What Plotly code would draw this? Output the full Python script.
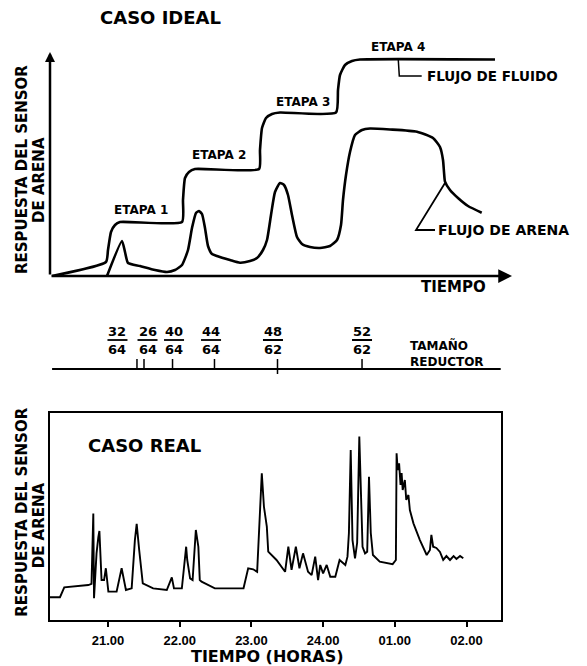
import plotly.graph_objects as go

W, H = 587, 666

# ---------------- Ideal case (arbitrary units) ----------------
fluid_t = [2, 56, 58, 61, 65, 70, 132, 133, 135, 139, 145, 209, 210, 212, 216, 222, 230,
           286, 288, 290, 295, 302, 310, 445]
fluid_r = [0, 14, 26, 44, 51, 54, 54, 76, 98, 104, 107, 107, 126, 148, 158, 162, 163.5,
           163.5, 186, 201, 211, 215, 216.5, 216.5]

sand_t = [57, 72, 75, 78, 90, 105, 117, 125, 132, 138, 142, 146, 149, 152, 155, 158, 162, 167,
          180, 190, 200, 207, 213, 217, 221, 225, 230, 234, 238, 242, 247, 252, 260, 270, 280,
          287, 291, 293, 296, 300, 305, 312, 320, 340, 367, 383, 390, 393, 394, 395, 400, 408,
          418, 431.7]
sand_r = [0, 35, 24, 13, 10, 6, 4, 6, 11, 26, 48, 63, 65, 62, 48, 30, 22, 20, 16, 13.3, 15, 18,
          26, 36, 61, 84, 93, 91, 81, 61, 39, 32, 29, 28, 30, 36, 51, 76, 101, 124, 141, 146,
          147.5, 146.5, 144.3, 138, 129, 116, 104, 94.3, 86, 78, 70, 63.3]

stage_labels = ["ETAPA 1", "ETAPA 2", "ETAPA 3", "ETAPA 4"]
stage_t = [90.5, 169, 253.3, 347.5]
stage_r = [66, 121, 174.3, 229.3]

# ---------------- Real case (hours, sensor response) ----------------
real_h = [20.19, 20.33, 20.39, 20.725, 20.77, 20.78, 20.795, 20.805, 20.84, 20.865,
          20.88, 20.91, 20.945, 20.97, 21.005, 21.12, 21.19, 21.25, 21.33, 21.375,
          21.40, 21.435, 21.485, 21.63, 21.82, 21.89, 21.92, 22.03, 22.09, 22.105,
          22.145, 22.18, 22.225, 22.26, 22.28, 22.305, 22.49, 22.89, 22.955, 23.025,
          23.08, 23.145, 23.175, 23.215, 23.235, 23.35, 23.47, 23.515, 23.56, 23.62,
          23.67, 23.72, 23.79, 23.84, 23.89, 23.93, 23.96, 24.00, 24.05, 24.10,
          24.17, 24.23, 24.31, 24.34, 24.36, 24.385, 24.41, 24.445, 24.475, 24.505,
          24.53, 24.55, 24.585, 24.615, 24.64, 24.665, 24.695, 24.79, 24.97, 25.015,
          25.025, 25.04, 25.06, 25.08, 25.095, 25.11, 25.14, 25.16, 25.19, 25.21,
          25.26, 25.35, 25.445, 25.49, 25.51, 25.535, 25.58, 25.63, 25.675, 25.72,
          25.77, 25.82, 25.86, 25.91, 25.955]
real_v = [11.0, 11.0, 15.8, 16.9, 17.5, 29.0, 51.5, 10.5, 32.2, 40.0,
          43.0, 19.3, 19.3, 25.0, 13.7, 13.7, 25.0, 14.5, 15.3, 38.6,
          46.4, 33.8, 17.7, 15.3, 14.5, 20.6, 15.3, 15.3, 35.4, 29.0,
          20.1, 19.3, 43.5, 35.4, 19.3, 18.5, 15.3, 15.3, 25.0, 24.5,
          23.3, 70.9, 54.7, 45.1, 33.0, 29.0, 23.3, 35.4, 24.2, 35.4,
          25.0, 32.2, 23.3, 21.7, 30.6, 19.3, 26.6, 22.5, 26.6, 20.9,
          20.9, 29.0, 26.6, 30.6, 42.0, 82.1, 38.6, 29.8, 37.3, 88.6,
          58.0, 35.4, 32.2, 33.0, 69.2, 42.0, 31.4, 28.2, 27.0, 29.0,
          80.5, 72.5, 75.7, 65.2, 71.0, 62.8, 67.6, 58.0, 60.4, 53.1,
          46.7, 38.6, 31.4, 33.8, 41.1, 35.4, 34.8, 32.9, 29.0, 30.9,
          29.0, 30.9, 29.5, 30.9, 29.8]

tick_hours = [21, 22, 23, 24, 25, 26]
tick_text = ["21.00", "22.00", "23.00", "24.00", "01.00", "02.00"]

# ---------------- Reducer size (choke) changes ----------------
choke_num = ["32", "26", "40", "44", "48", "52"]
choke_den = ["64", "64", "64", "64", "62", "62"]
choke_label_h = [21.132, 21.551, 21.921, 22.437, 23.301, 24.543]
choke_change_h = [21.404, 21.502, 21.900, 22.485, 23.364, 24.543]


def xp(px):
    return px / W


def yp(py):
    return 1 - py / H


FONT = "DejaVu Sans"
BLACK = "black"

fig = go.Figure()
fig.add_trace(go.Scatter(x=fluid_t, y=fluid_r, mode="lines", xaxis="x", yaxis="y",
                         line=dict(color=BLACK, width=2.6, shape="spline", smoothing=0.5)))
fig.add_trace(go.Scatter(x=sand_t, y=sand_r, mode="lines", xaxis="x", yaxis="y",
                         line=dict(color=BLACK, width=2.6, shape="spline", smoothing=0.5)))
fig.add_trace(go.Scatter(x=real_h, y=real_v, mode="lines", xaxis="x2", yaxis="y2",
                         line=dict(color=BLACK, width=1.9)))

ann = []
shapes = []


def txt(x, y, s, size, xref="paper", yref="paper", xanchor="center", angle=0, family=FONT):
    ann.append(dict(x=x, y=y, xref=xref, yref=yref, text=s, showarrow=False,
                    xanchor=xanchor, yanchor="middle", textangle=angle, borderpad=0,
                    font=dict(family=family, size=size, color=BLACK, weight="bold")))


# ideal axes with arrows
ann.append(dict(x=462, y=0, ax=0, ay=0, xref="x", yref="y", axref="x", ayref="y", text="",
                showarrow=True, arrowhead=2, arrowsize=1.1, arrowwidth=2.5, arrowcolor=BLACK))
ann.append(dict(x=0, y=224, ax=0, ay=0, xref="x", yref="y", axref="x", ayref="y", text="",
                showarrow=True, arrowhead=2, arrowsize=0.8, arrowwidth=2.5, arrowcolor=BLACK))

txt(xp(160.5), yp(17), "CASO IDEAL", 18)
for s, t, r in zip(stage_labels, stage_t, stage_r):
    txt(t, r, s, 12, xref="x", yref="y")
txt(376, 200, "FLUJO DE FLUIDO", 13.5, xref="x", yref="y", xanchor="left")
txt(387, 46, "FLUJO DE ARENA", 14, xref="x", yref="y", xanchor="left")
txt(xp(453.5), yp(287), "TIEMPO", 15)
txt(xp(22), yp(170), "RESPUESTA DEL SENSOR", 15, angle=-90)
txt(xp(39), yp(180), "DE ARENA", 15, angle=-90)

# leader lines
shapes.append(dict(type="path", xref="x", yref="y", path="M 348.3,216 L 349.3,200 L 371.7,200",
                   line=dict(color=BLACK, width=1.5)))
shapes.append(dict(type="path", xref="x", yref="y", path="M 395,93 L 366,46 L 385,46",
                   line=dict(color=BLACK, width=1.8)))

# reducer scale (shares the real-case time axis)
shapes.append(dict(type="line", xref="x2", yref="paper", x0=20.22, x1=26.5,
                   y0=yp(369), y1=yp(369), line=dict(color=BLACK, width=2.2)))
for i, h in enumerate(choke_change_h):
    bottom = 374 if i == 4 else 369
    shapes.append(dict(type="line", xref="x2", yref="paper", x0=h, x1=h,
                       y0=yp(359), y1=yp(bottom), line=dict(color=BLACK, width=1.5)))
for n, d, h in zip(choke_num, choke_den, choke_label_h):
    txt(h, yp(331.5), n, 13, xref="x2")
    txt(h, yp(349.5), d, 13, xref="x2")
    shapes.append(dict(type="line", xref="x2", yref="paper", xsizemode="pixel", xanchor=h,
                       x0=-10, x1=10, y0=yp(340), y1=yp(340), line=dict(color=BLACK, width=1.8)))
ann.append(dict(x=xp(408.7), y=yp(353.5), xref="paper", yref="paper", showarrow=False,
                text="TAMAÑO<br>REDUCTOR", xanchor="left", yanchor="middle", align="left",
                borderpad=0, font=dict(family=FONT, size=12, color=BLACK, weight="bold")))

# real-case texts
txt(xp(144.5), yp(445), "CASO REAL", 18)
txt(xp(267), yp(656), "TIEMPO (HORAS)", 16)
txt(xp(21.7), yp(512), "RESPUESTA DEL SENSOR", 15, angle=-90)
txt(xp(39.3), yp(525), "DE ARENA", 15, angle=-90)

fig.update_layout(
    width=W, height=H, margin=dict(l=0, r=0, t=0, b=0),
    paper_bgcolor="white", plot_bgcolor="white", showlegend=False,
    xaxis=dict(domain=[xp(50), xp(512)], range=[0, 462], visible=False, anchor="y"),
    yaxis=dict(domain=[yp(276), yp(36)], range=[0, 240], visible=False, anchor="x"),
    xaxis2=dict(domain=[xp(50), xp(500.7)], range=[20.191, 26.477], anchor="y2",
                showline=True, mirror=True, linewidth=2, linecolor=BLACK,
                showgrid=False, zeroline=False, ticks="outside", ticklen=5, tickwidth=1.5,
                tickcolor=BLACK, tickvals=tick_hours, ticktext=tick_text, ticklabelstandoff=2,
                tickfont=dict(family="Liberation Sans", size=13, color=BLACK, weight="bold")),
    yaxis2=dict(domain=[yp(620), yp(413)], range=[0, 100], anchor="x2",
                showline=True, mirror=True, linewidth=2, linecolor=BLACK,
                showgrid=False, zeroline=False, showticklabels=False, ticks=""),
    annotations=ann, shapes=shapes,
)

fig.write_html("out.html", config={"displayModeBar": False},
               post_script="document.body.style.margin='0px';")
